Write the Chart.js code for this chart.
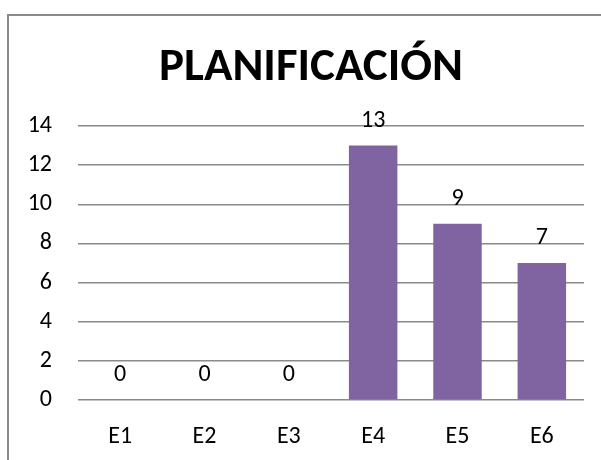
<!DOCTYPE html>
<html lang="es">
<head>
<meta charset="UTF-8">
<title>PLANIFICACIÓN</title>
<script src="https://cdn.jsdelivr.net/npm/chart.js"></script>
<style>
  html, body { margin: 0; padding: 0; background: #fff; }
  #wrap { position: relative; width: 601px; height: 460px; overflow: hidden; }
  #frame { position: absolute; left: 7px; top: 14px; width: 700px; height: 600px; border: 2px solid #8a8a8a; box-sizing: border-box; }
  #chart { position: absolute; left: 0; top: 0; }
</style>
</head>
<body>
<div id="wrap">
  <div id="frame"></div>
  <canvas id="chart" width="601" height="460"></canvas>
</div>
<script>
const chartTitle = 'PLANIFICACIÓN';
const categories = ['E1', 'E2', 'E3', 'E4', 'E5', 'E6'];
const values = [0, 0, 0, 13, 9, 7];
const yTicks = [0, 2, 4, 6, 8, 10, 12, 14];

const FONT = "Carlito, 'Open Sans', sans-serif";

// title sits a little left of the plot centre, like the original
const titleText = {
  id: 'titleText',
  afterDraw(chart) {
    const ctx = chart.ctx;
    ctx.save();
    ctx.font = 'bold 47px ' + FONT;
    ctx.fillStyle = '#000';
    ctx.textAlign = 'center';
    ctx.textBaseline = 'alphabetic';
    ctx.fillText(chartTitle, 311, 80);
    ctx.restore();
  }
};

// labels above each bar
const valueLabels = {
  id: 'valueLabels',
  afterDatasetsDraw(chart) {
    const ctx = chart.ctx;
    const meta = chart.getDatasetMeta(0);
    ctx.save();
    ctx.font = '24px ' + FONT;
    ctx.fillStyle = '#000';
    ctx.textAlign = 'center';
    ctx.textBaseline = 'middle';
    meta.data.forEach((bar, i) => {
      ctx.fillText(String(values[i]), bar.x, bar.y - 25);
    });
    ctx.restore();
  }
};

new Chart(document.getElementById('chart'), {
  type: 'bar',
  data: {
    labels: categories,
    datasets: [{
      data: values,
      backgroundColor: '#8064A2',
      barPercentage: 0.575,
      categoryPercentage: 1
    }]
  },
  options: {
    responsive: false,
    animation: false,
    layout: { padding: { left: 0, right: 17, top: 126, bottom: 10 } },
    plugins: {
      legend: { display: false },
      tooltip: { enabled: false },
      title: { display: false }
    },
    scales: {
      x: {
        grid: { display: false, drawTicks: false },
        border: { display: false },
        ticks: { color: '#000', padding: 23, font: { family: FONT, size: 24 } },
        afterFit(scale) { scale.height = 50; }
      },
      y: {
        min: 0,
        max: 14,
        afterBuildTicks(scale) { scale.ticks = yTicks.map(v => ({ value: v })); },
        grid: { color: '#8a8a8a', lineWidth: 1.5, drawTicks: false },
        border: { display: false },
        ticks: { color: '#000', padding: 26, font: { family: FONT, size: 24 } },
        afterFit(scale) { scale.width = 78; }
      }
    }
  },
  plugins: [valueLabels, titleText]
});
</script>
</body>
</html>
